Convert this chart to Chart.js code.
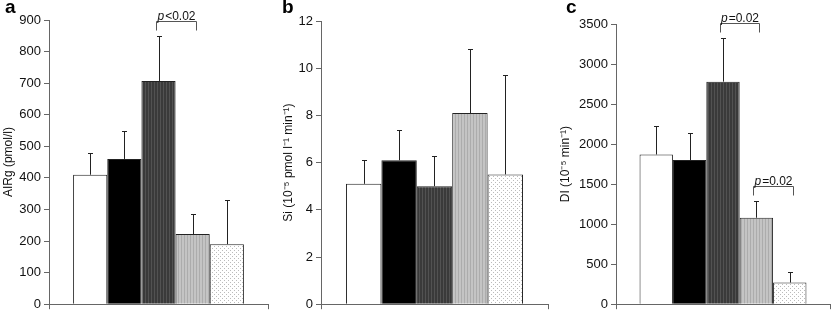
<!DOCTYPE html>
<html>
<head>
<meta charset="utf-8">
<script src="https://cdn.jsdelivr.net/npm/chart.js@4.4.0/dist/chart.umd.min.js"></script>
<style>
    body { margin: 0; background: #fff; }
    #wrap { position: relative; width: 832px; height: 315px; overflow: hidden; }
    canvas { position: absolute; top: 0; }
    .panel { position: absolute; top: -4px; font: bold 19px "Liberation Sans", Arial, sans-serif; color: #000; }
</style>
</head>
<body>
<div id="wrap">
    <canvas id="chartA" width="277" height="315" style="left:0"></canvas>
    <canvas id="chartB" width="277" height="315" style="left:277px"></canvas>
    <canvas id="chartC" width="278" height="315" style="left:554px"></canvas>
    <div class="panel" style="left:5px">a</div>
    <div class="panel" style="left:282px">b</div>
    <div class="panel" style="left:566px">c</div>
</div>
<script>
// Five groups, drawn as adjacent bars (no category labels in the figure)
const groups = ['Group 1', 'Group 2', 'Group 3', 'Group 4', 'Group 5'];

// Panel a: AIRg (pmol/l)
const airgMeans = [410, 460, 707, 222, 190];
const airgSd = [70, 90, 141, 65, 140];
const airgTicks = { max: 900, step: 100 };

// Panel b: Si
const siMeans = [5.1, 6.1, 5.0, 8.1, 5.5];
const siSd = [1.0, 1.3, 1.3, 2.7, 4.2];
const siTicks = { max: 12, step: 2 };

// Panel c: DI
const diMeans = [1870, 1800, 2780, 1080, 270];
const diSd = [360, 340, 540, 210, 130];
const diTicks = { max: 3500, step: 500 };

// Significance brackets (bar indexes + text after the italic p)
const airgBrackets = [{ from: 2, to: 3, text: '<0.02' }];
const siBrackets = [];
const diBrackets = [
    { from: 2, to: 3, text: '=0.02' },
    { from: 3, to: 4, text: '=0.02' }
];

const FONT = '"Liberation Sans", Arial, sans-serif';

function stripePattern(base, line) {
    const c = document.createElement('canvas');
    c.width = 3; c.height = 4;
    const g = c.getContext('2d');
    g.fillStyle = base; g.fillRect(0, 0, 3, 4);
    g.fillStyle = line; g.fillRect(1, 0, 1, 4);
    return g.createPattern(c, 'repeat');
}

function dotPattern() {
    const c = document.createElement('canvas');
    c.width = 4; c.height = 4;
    const g = c.getContext('2d');
    g.fillStyle = '#fff'; g.fillRect(0, 0, 4, 4);
    g.fillStyle = '#bbbbbb';
    g.fillRect(0, 0, 1, 1);
    g.fillRect(2, 2, 1, 1);
    return g.createPattern(c, 'repeat');
}

const fills = [
    '#ffffff',
    '#000000',
    stripePattern('#3a3a3a', '#525252'),
    stripePattern('#c4c4c4', '#acacac'),
    dotPattern()
];

// Upper error bars + significance brackets
const extrasPlugin = {
    id: 'extras',
    afterDatasetsDraw(chart) {
        const ctx = chart.ctx;
        const y = chart.scales.y;
        const tops = [];
        ctx.save();
        ctx.strokeStyle = '#222';
        ctx.lineWidth = 1;
        chart.data.datasets.forEach((ds, i) => {
            const bar = chart.getDatasetMeta(i).data[0];
            const top = Math.round(y.getPixelForValue(ds.data[0] + ds.sd)) + 0.5;
            const x = Math.round(bar.x) + 0.5;
            tops.push(top);
            ctx.beginPath();
            ctx.moveTo(x, bar.y);
            ctx.lineTo(x, top);
            ctx.moveTo(x - 2.5, top);
            ctx.lineTo(x + 2.5, top);
            ctx.stroke();
        });

        const brackets = chart.options.plugins.extras.brackets || [];
        ctx.strokeStyle = '#555';
        brackets.forEach(b => {
            const x1 = Math.round(chart.getDatasetMeta(b.from).data[0].x) - 2.5;
            const x2 = Math.round(chart.getDatasetMeta(b.to).data[0].x) + 3.5;
            const yb = Math.min(tops[b.from], tops[b.to]) - 15;
            ctx.beginPath();
            ctx.moveTo(x1, yb + 9);
            ctx.lineTo(x1, yb);
            ctx.lineTo(x2, yb);
            ctx.lineTo(x2, yb + 9);
            ctx.stroke();

            ctx.fillStyle = '#111';
            ctx.textBaseline = 'alphabetic';
            ctx.font = 'italic 12px ' + FONT;
            const wp = ctx.measureText('p').width;
            ctx.font = '12px ' + FONT;
            const wr = ctx.measureText(b.text).width;
            const gap = 1;
            const start = (x1 + x2) / 2 - (wp + gap + wr) / 2;
            ctx.font = 'italic 12px ' + FONT;
            ctx.fillText('p', start, yb - 2);
            ctx.font = '12px ' + FONT;
            ctx.fillText(b.text, start + wp + gap, yb - 2);
        });
        ctx.restore();
    }
};

function makeChart(id, means, sds, ticks, title, brackets, box) {
    const ctx = document.getElementById(id).getContext('2d');
    new Chart(ctx, {
        type: 'bar',
        data: {
            labels: [''],
            datasets: groups.map((g, i) => ({
                label: g,
                data: [means[i]],
                sd: sds[i],
                backgroundColor: fills[i],
                borderColor: '#222',
                borderWidth: 1,
                categoryPercentage: 0.78,
                barPercentage: 1
            }))
        },
        options: {
            responsive: false,
            animation: false,
            layout: {
                padding: { top: box.padTop, right: box.padRight, left: 0, bottom: 0 }
            },
            plugins: {
                legend: { display: false },
                tooltip: { enabled: false },
                extras: { brackets: brackets }
            },
            scales: {
                x: {
                    grid: { display: true, drawOnChartArea: false, offset: true, tickLength: 5, color: '#666' },
                    border: { color: '#666' },
                    ticks: { display: false },
                    afterFit: function(scale) { scale.height = box.xHeight; }
                },
                y: {
                    min: 0,
                    max: ticks.max,
                    ticks: {
                        stepSize: ticks.step,
                        padding: 3,
                        color: '#111',
                        font: { family: FONT, size: 13 },
                        callback: function(value) { return String(value); }
                    },
                    grid: { display: true, drawOnChartArea: false, tickLength: 5, color: '#666' },
                    border: { color: '#666' },
                    title: {
                        display: true,
                        text: title,
                        color: '#111',
                        padding: { top: box.titlePad, bottom: 0 },
                        font: { family: FONT, size: 12 }
                    },
                    afterFit: function(scale) { scale.width = box.axisWidth; }
                }
            }
        },
        plugins: [extrasPlugin]
    });
}

makeChart('chartA', airgMeans, airgSd, airgTicks, 'AIRg (pmol/l)', airgBrackets,
    { axisWidth: 49, padTop: 20, padRight: 9, xHeight: 5, titlePad: 1 });
makeChart('chartB', siMeans, siSd, siTicks, 'Si (10\u207B\u2075 pmol l\u207B\u00B9 min\u207B\u00B9)', siBrackets,
    { axisWidth: 44, padTop: 21, padRight: 6, xHeight: 4, titlePad: 4 });
makeChart('chartC', diMeans, diSd, diTicks, 'DI (10\u207B\u2075 min\u207B\u00B9)', diBrackets,
    { axisWidth: 62, padTop: 24, padRight: 2, xHeight: 5, titlePad: 4 });
</script>
</body>
</html>
